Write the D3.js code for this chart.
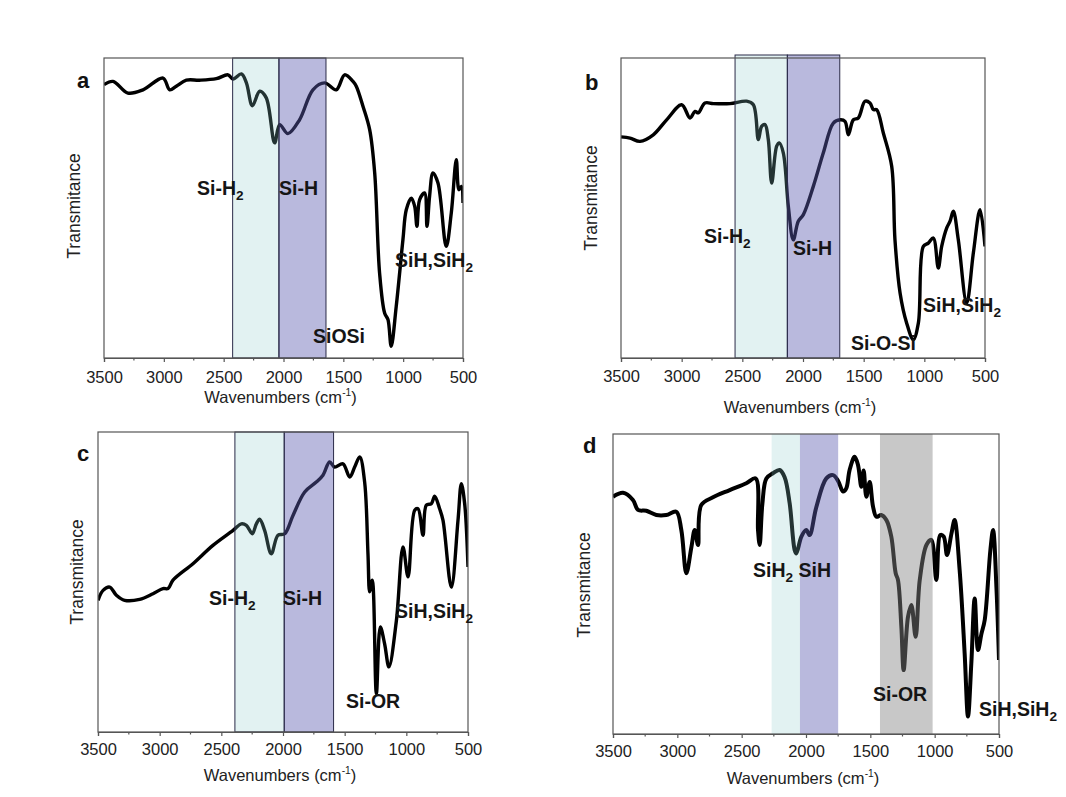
<!DOCTYPE html>
<html>
<head>
<meta charset="utf-8">
<script src="https://cdn.jsdelivr.net/npm/d3@7"></script>
<style>
  html,body{margin:0;padding:0;background:#fff;}
  svg{display:block;font-family:"Liberation Sans",Arial,sans-serif;}
</style>
</head>
<body>
<svg id="chart" width="1066" height="797"></svg>
<script>
// ---------------- DATA ----------------
const xTicks = [3500, 3000, 2500, 2000, 1500, 1000, 500];
const yTitle = "Transmitance";
const xTitle = "Wavenumbers (cm";

// panel a
const aWn = [3500,3425,3300,3174,3007,2951,2896,2812,2701,2561,2464,2422,2352,2310,2260,2199,2144,2074,2032,1963,1866,1754,1657,1559,1489,1419,1391,1336,1280,1238,1197,1155,1127,1100,1058,1002,974,932,904,885,862,821,801,779,751,709,640,598,556,534,514,500];
const aT  = [91.1,92.2,88.3,89.4,93.3,89.4,90.6,92.6,92.6,93.1,94.4,93,94.7,91.7,84.1,88.9,86.7,71.7,77.8,74.8,79.4,89.4,91.7,89.4,94.4,92.2,90.5,83.9,76.1,61.7,28.3,15,12.8,3.9,17.2,39.4,49.4,53.3,50.6,43.9,52.8,55,43.9,54,61.7,58.3,37.2,48.3,66.1,56.1,57.2,51.7];
const aBands = [[2425, 2038, "cyan"], [2038, 1645, "purple"]];
const aLabels = ["Si-H_2", "Si-H", "SiOSi", "SiH,SiH_2"];

// panel b
const bWn = [3500,3426,3343,3234,3124,3000,2931,2890,2863,2808,2739,2602,2464,2409,2368,2341,2313,2286,2258,2217,2195,2162,2121,2080,2039,1997,1915,1833,1750,1695,1654,1626,1585,1544,1489,1448,1420,1393,1338,1269,1242,1200,1146,1091,1049,1008,967,926,885,857,816,788,761,720,651,596,541,500];
const bT  = [73.7,73.3,72.2,74.4,79.4,84.4,80,82.2,81.7,85,84.8,84.8,85.6,84.4,72.8,77.2,77.8,72.8,58.3,70.6,71.7,68.3,50.6,39.4,45.6,47.8,57.2,68.3,78.3,79.4,78.9,74.4,79.4,80,85.6,85,82.8,82.8,75,63.9,39.4,21.7,11.7,6.1,11.7,37.2,38.3,40,30,37.2,43.3,45.6,48.9,39.4,18.3,35,49.4,37.2];
const bBands = [[2560, 2129, "cyan"], [2129, 1697, "purple"]];
const bLabels = ["Si-H_2", "Si-H", "Si-O-Si", "SiH,SiH_2"];

// panel c
const cWn = [3500,3459,3405,3351,3284,3162,3054,2973,2932,2892,2730,2568,2405,2338,2297,2249,2216,2189,2149,2095,2041,1986,1919,1824,1730,1676,1622,1581,1514,1459,1419,1378,1338,1311,1297,1276,1243,1211,1176,1141,1081,1027,986,932,905,865,838,797,770,730,703,635,581,554,527,500];
const cT  = [43.9,47.2,48.3,45.6,43.9,44.2,46.1,47.8,47.8,50.6,56.1,62.2,67.2,69.4,68.9,66.1,69.4,70.9,67.2,59.4,65.6,66.1,72.2,80,83.3,85.6,90,88.3,89.4,85,88.3,91.7,83.3,59.4,46.7,50.6,12.8,35,29.4,21.7,37,61.7,51.7,73.9,74.4,65.6,75.6,76.1,78.6,74.4,70.6,48.3,70.6,82.8,76.1,55];
const cBands = [[2390, 1990, "cyan"], [1990, 1590, "purple"]];
const cLabels = ["Si-H_2", "Si-H", "Si-OR", "SiH,SiH_2"];

// panel d
const dWn = [3500,3422,3345,3306,3241,3163,3086,3008,2969,2930,2891,2865,2839,2814,2723,2593,2464,2391,2373,2360,2339,2308,2257,2205,2166,2127,2088,2075,2036,1998,1972,1920,1842,1790,1751,1712,1687,1661,1622,1596,1570,1552,1531,1505,1479,1453,1415,1375,1337,1303,1285,1259,1241,1207,1181,1148,1116,1064,1026,987,956,930,904,870,845,806,767,741,715,689,663,637,611,567,546,520,500];
const dT  = [79.1,80.4,78,74.7,74.4,73,73,74.1,68,53.6,62.2,68,63,76.3,78.9,81.3,83.6,85.2,68,63,76.7,85.2,86.9,88,85.6,76.9,61.3,60.2,65.8,68,66.3,75.6,85.2,86.3,84.4,80.8,81.9,88,92.4,89.7,82.4,87.8,79.1,84,75.8,72.4,73,71.3,65.8,53.6,51.3,35.8,21.3,39.1,43,32.4,51.3,63,64.7,51.3,66.3,65.8,59.7,66.7,71.3,54.7,26.9,5.8,23.6,45.2,28,33.3,38,61.3,68,48.9,24.7];
const dBands = [[2267, 2047, "cyan"], [2047, 1750, "purple"], [1425, 1016, "gray"]];
const dLabels = ["SiH_2 SiH", "Si-OR", "SiH,SiH_2"];

// ---------------- LAYOUT / STYLE ----------------
const bandStyle = {
  cyan:   {fill: "rgb(139,203,203)", opacity: 0.25},
  purple: {fill: "rgb(93,93,177)",  opacity: 0.43},
  gray:   {fill: "rgb(133,133,133)", opacity: 0.45}
};

const panels = [
  {letter: "a", wn: aWn, t: aT, bands: aBands, labels: aLabels,
   box: [104, 463, 58, 358], lw: 3.4, bandBorder: true, bandTopExtra: 0,
   letterPos: [77, 88], yTitlePos: [80, 206], xTitleY: 403, tickY: 383,
   labelPos: [[197, 195], [279, 195], [313, 343], [395, 267]]},
  {letter: "b", wn: bWn, t: bT, bands: bBands, labels: bLabels,
   box: [621, 985, 58, 358], lw: 3.4, bandBorder: true, bandTopExtra: 3,
   letterPos: [585, 90], yTitlePos: [597, 198], xTitleY: 413, tickY: 382,
   labelPos: [[704, 243], [793, 255], [851, 350], [923, 312]]},
  {letter: "c", wn: cWn, t: cT, bands: cBands, labels: cLabels,
   box: [98, 468, 432, 732], lw: 3.4, bandBorder: true, bandTopExtra: 0,
   letterPos: [77, 461], yTitlePos: [83, 572], xTitleY: 781, tickY: 755,
   labelPos: [[209, 605], [283, 605], [346, 708], [395, 618]]},
  {letter: "d", wn: dWn, t: dT, bands: dBands, labels: dLabels,
   box: [613, 999, 434, 734], lw: 4, bandBorder: false, bandTopExtra: 0,
   letterPos: [583, 453], yTitlePos: [590, 585], xTitleY: 784, tickY: 757,
   labelPos: [[753, 577], [873, 701], [979, 716]]}
];

const svg = d3.select("#chart");
svg.append("rect").attr("width", 1066).attr("height", 797).attr("fill", "#fff");

function addRichText(sel, str) {
  // "_2" => subscript 2
  const parts = str.split(/_(\d)/);
  let pendingDy = 0;
  parts.forEach((p, i) => {
    if (p === "") return;
    if (i % 2 === 1) {
      sel.append("tspan").attr("font-size", "70%").attr("dy", 5 + pendingDy).text(p);
      pendingDy = -5;
    } else {
      const ts = sel.append("tspan").text(p);
      if (pendingDy) ts.attr("dy", pendingDy);
      pendingDy = 0;
    }
  });
}

panels.forEach((P, pi) => {
  const [x0, x1, y0, y1] = P.box;
  const x = d3.scaleLinear().domain([3500, 500]).range([x0, x1]);
  const y = d3.scaleLinear().domain([0, 100]).range([y1, y0]);
  const g = svg.append("g");

  const clipId = "clip" + pi;
  svg.append("defs").append("clipPath").attr("id", clipId)
    .append("rect").attr("x", x0).attr("y", y0 - 6).attr("width", x1 - x0).attr("height", y1 - y0 + 6);

  // spectrum line
  const pts = P.wn.map((w, i) => [w, P.t[i]]);
  const line = d3.line().x(d => x(d[0])).y(d => y(d[1])).curve(d3.curveCatmullRom.alpha(0.5));
  g.append("path").datum(pts)
    .attr("d", line)
    .attr("fill", "none")
    .attr("stroke", "#000")
    .attr("stroke-width", P.lw)
    .attr("stroke-linejoin", "round")
    .attr("clip-path", `url(#${clipId})`);

  // bands overlay
  P.bands.forEach(b => {
    const st = bandStyle[b[2]];
    const bx0 = x(b[0]), bx1 = x(b[1]);
    g.append("rect")
      .attr("x", bx0).attr("y", y0 - P.bandTopExtra)
      .attr("width", bx1 - bx0).attr("height", y1 - y0 + P.bandTopExtra)
      .attr("fill", st.fill).attr("fill-opacity", st.opacity)
      .attr("stroke", P.bandBorder ? "#2a2a48" : "none")
      .attr("stroke-width", 1);
  });

  // frame
  g.append("rect").attr("x", x0).attr("y", y0).attr("width", x1 - x0).attr("height", y1 - y0)
    .attr("fill", "none").attr("stroke", "#555").attr("stroke-width", 1.2);

  // x axis
  const axis = d3.axisBottom(x).tickValues(xTicks).tickSize(4).tickPadding(4).tickFormat(d3.format("d"));
  const ax = g.append("g").attr("transform", `translate(0,${y1})`).call(axis);
  ax.select(".domain").attr("stroke", "#555").attr("stroke-width", 1.2);
  ax.selectAll(".tick line").attr("stroke", "#555").attr("stroke-width", 1.2);
  ax.selectAll(".tick text").attr("font-size", 16.5).attr("fill", "#222")
    .attr("font-family", "Liberation Sans, Arial, sans-serif")
    .attr("y", null).attr("dy", null)
    .attr("transform", `translate(0,${P.tickY - y1})`);
  // minor ticks
  const minor = d3.range(3250, 500, -500);
  g.selectAll(null).data(minor).enter().append("line")
    .attr("x1", d => x(d)).attr("x2", d => x(d))
    .attr("y1", y1).attr("y2", y1 + 2.5)
    .attr("stroke", "#555").attr("stroke-width", 1.2);

  // x title
  const xt = g.append("text").attr("x", (x0 + x1) / 2 - 3).attr("y", P.xTitleY)
    .attr("text-anchor", "middle").attr("font-size", 16.5).attr("fill", "#222");
  xt.append("tspan").text(xTitle);
  xt.append("tspan").attr("font-size", "62%").attr("dy", -7).text("-1");
  xt.append("tspan").attr("dy", 7).text(")");

  // y title
  g.append("text")
    .attr("transform", `translate(${P.yTitlePos[0]},${P.yTitlePos[1]}) rotate(-90)`)
    .attr("text-anchor", "middle").attr("font-size", 17.5).attr("fill", "#222")
    .text(yTitle);

  // panel letter
  g.append("text").attr("x", P.letterPos[0]).attr("y", P.letterPos[1])
    .attr("font-size", 22).attr("font-weight", "bold").attr("fill", "#111")
    .text(P.letter);

  // annotations
  P.labels.forEach((lab, i) => {
    const t = g.append("text").attr("x", P.labelPos[i][0]).attr("y", P.labelPos[i][1])
      .attr("font-size", 19.5).attr("font-weight", "bold").attr("fill", "#151515");
    addRichText(t, lab);
  });
});
</script>
</body>
</html>
